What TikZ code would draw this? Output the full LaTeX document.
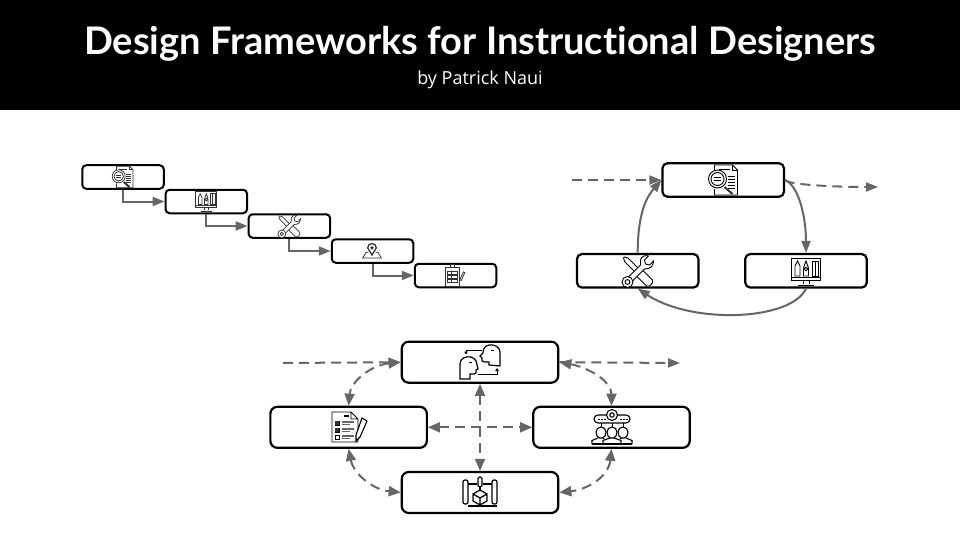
\documentclass[tikz,border=0pt]{standalone}
\usepackage{fontspec}
\setmainfont[Ligatures=NoCommon]{Lato}
\newfontfamily\subfont{Open Sans}
\usetikzlibrary{arrows.meta}
\definecolor{linegray}{HTML}{666666}
\tikzset{
  stepbox/.style={draw,line width=2pt,rounded corners=4pt,fill=white,inner sep=0pt,minimum width=81.5pt,minimum height=23.5pt},
  loopbox/.style={stepbox,line width=2.2pt,rounded corners=5pt,minimum width=121.5pt,minimum height=33.5pt},
  wideitem/.style={stepbox,line width=2.2pt,rounded corners=7pt,minimum width=156.5pt,minimum height=41pt},
  flow/.style={draw=linegray,line width=2pt,-{Triangle[length=12pt,width=9pt]}},
  flowdash/.style={flow,dash pattern=on 10pt off 6pt},
  bothdash/.style={flowdash,{Triangle[length=12pt,width=10pt]}-{Triangle[length=12pt,width=10pt]}},
  iconline/.style={draw=black,line width=.9pt},
  smallicon/.style={scale=.72,iconline/.style={draw=black!80,line width=.75pt}},
  iconsearch/.pic={
    \draw[iconline] (-9,-9) -- (-9,-15) -- (9,-15) -- (14,-10) -- (14,15) -- (-9,15) -- (-9,9);
    \draw[iconline] (9,-15) -- (9,-10) -- (14,-10);
    \foreach \y in {-4,-1,2,5,8} {\draw[iconline] (4,\y) -- (11,\y);}
    \draw[iconline] (-5,-11) -- (6,-11);
    \draw[iconline,fill=white] (-6,-1) circle (9);
    \draw[iconline] (-6,-1) circle (6.5);
    \draw[iconline] (-9.5,-2.5) -- (-2.5,-2.5) (-9.5,.5) -- (-2.5,.5);
    \draw[line width=2pt,black!80] (1,7) -- (9,14);
  },
  iconscreen/.pic={
    \draw[iconline] (-14.5,-13) rectangle (14.5,9) (-14.5,6) -- (14.5,6);
    \draw[iconline] (-3,9) -- (-3,13) (3,9) -- (3,13) (-8,14) -- (8,14);
    \draw[iconline] (-11,5) -- (-11,-5) -- (-8.5,-10) -- (-6,-5) -- (-6,5) -- cycle;
    \draw[iconline] (-2.5,5) -- (-2.5,-3) -- (0,-10) -- (2.5,-3) -- (2.5,5) -- cycle (0,-2) circle (1.8);
    \draw[iconline] (6,-10) rectangle (12,5) (9,-10) -- (9,5);
  },
  icontools/.pic={
    \draw[iconline,fill=white] (4,-2) -- (15,9) -- (15,12) -- (12,15) -- (9,15) -- (-2,4) -- cycle;
    \draw[iconline,fill=white] (-9.2,-12.8) -- (2.8,-.8) -- (-.8,2.8) -- (-12.8,-9.2) -- (-14,-13) -- (-13,-14) -- cycle;
    \draw[iconline,fill=white] (-11,8) -- (3,-6) -- (3,-11) .. controls (4,-15) and (8,-16) .. (11,-15) -- (7,-11) -- (8,-7) -- (12,-6) -- (16,-10) .. controls (16,-5) and (13,-2) .. (7,-2) -- (-7,12) -- cycle;
    \draw[iconline,fill=white] (-10,11) circle (5.5);
    \draw[iconline,fill=white] (-10,11) circle (2.4);
  },
  iconpin/.pic={
    \draw[iconline] (-5,3) -- (-8,3) -- (-13,11) -- (13,11) -- (8,3) -- (5,3);
    \draw[iconline,line width=1.3pt] (0,7) -- (-6,-3) arc (180:360:6) -- cycle;
    \draw[iconline,fill=black] (0,-3) circle (1.8);
  },
  iconclip/.pic={
    \draw[iconline] (-12,-11) rectangle (7,15);
    \draw[iconline] (-5,-15) rectangle (0,-11);
    \foreach \y in {-6,0,6} {\draw[iconline] (-9,\y) rectangle (4,\y+4) (-3,\y) -- (-3,\y+4);}
    \draw[iconline] (8,6) -- (13,-5) -- (15,-4) -- (10,7) -- cycle;
  },
  iconheads/.pic={
    \draw[iconline,line width=1.2pt] (-20,17) -- (-20,2) .. controls (-20,-4) and (-14,-6) .. (-9,-5) .. controls (-5,-4) and (-3,0) .. (-3,3) -- (-2,7) -- (-4,8) -- (-4,11) -- (-6,12) -- (-10,12) -- (-10,17) -- cycle;
    \draw[iconline,line width=1.2pt] (20,4) -- (20,-10) .. controls (20,-15) and (14,-18) .. (9,-17) .. controls (4,-16) and (3,-12) .. (3,-9) -- (0,-6) -- (2,-4) -- (2,-1) -- (5,0) -- (9,0) -- (9,3) -- (20,4);
    \draw[iconline] (-11,0) -- (-8,0) (11,-12) -- (14,-12);
    \draw[iconline,-{Triangle[length=3pt,width=3.5pt]}] (2,-12) -- (-14,-12) -- (-14,-7.5);
    \draw[iconline,-{Triangle[length=3pt,width=3.5pt]}] (-2,12) -- (17,12) -- (17,6);
  },
  iconteam/.pic={
    \draw[iconline,line width=1.1pt,rounded corners=4pt,fill=white] (-18,-13) rectangle (18,-5);
    \draw[iconline,line width=1.1pt,fill=white] (0,-13) circle (5.5);
    \draw[iconline,line width=1.1pt] (0,-13) circle (2.2);
    \foreach \x in {-14,-11,-8,8,11,14} {\draw[iconline] (\x,-9) -- (\x+1.5,-9);}
    \draw[iconline] (-11,-5) -- (-11,-1) (0,-5) -- (0,-1) (11,-5) -- (11,-1);
    \foreach \x in {-11,11} {
      \draw[iconline,line width=1.1pt] (\x-5,4) arc (180:360:5) -- (\x+4,8) -- (\x+1.5,10) -- (\x-1.5,10) -- (\x-4,8) -- cycle;
    }
    \draw[iconline,line width=1.1pt] (-20,16) -- (-20,12.5) -- (-14,10) (-8,10) -- (-9,11) (20,16) -- (20,12.5) -- (14,10) (8,10) -- (9,11);
    \draw[iconline,line width=1.1pt,fill=white] (-5,4) arc (180:360:5) -- (4,8) -- (1.5,10) -- (-1.5,10) -- (-4,8) -- cycle;
    \draw[iconline,line width=1.1pt] (-9,16) -- (-9,12.5) -- (-2,10) (2,10) -- (9,12.5) -- (9,16);
    \draw[iconline,line width=1.3pt] (-20,16) -- (20,16);
  },
  iconcube/.pic={
    \draw[iconline,line width=1.2pt] (-12,-9) -- (-3,-9) (3,-9) -- (12,-9) (-12,13) -- (17,13);
    \draw[iconline,line width=1.2pt,rounded corners=2pt] (-17,-13) rectangle (-12,11) (12,-13) rectangle (17,11);
    \draw[iconline,line width=1.2pt,rounded corners=1.5pt] (-2,-16) rectangle (2,-6);
    \draw[iconline,line width=1.2pt] (0,-6) -- (0,-3);
    \draw[iconline,line width=1.2pt] (0,-3) -- (7,1) -- (7,8) -- (0,12) -- (-7,8) -- (-7,1) -- cycle (-7,1) -- (0,5) -- (7,1) (0,5) -- (0,12);
  },
  iconlist/.pic={
    \draw[iconline] (-16,-15) -- (3,-15) -- (10,-8) -- (10,15) -- (-16,15) -- cycle (3,-15) -- (3,-8) -- (10,-8);
    \draw[iconline,line width=1.2pt] (-4,-11) -- (1,-11);
    \foreach \y in {-4,3,10} {
      \draw[iconline] (-13,\y-2) rectangle (-9,\y+2);
      \draw[iconline,line width=1.2pt,black!60] (-6,\y-1) -- (6,\y-1);
      \draw[iconline,black!60] (-6,\y+1.5) -- (2,\y+1.5);
    }
    \fill[black!80] (-13,-6) rectangle (-9,-2) (-13,1) rectangle (-9,5);
    \draw[iconline,fill=white,line width=1.1pt] (14,-9) -- (19,-6) -- (12,10) -- (8,14) -- (8,8) -- cycle;
  }
}
\begin{document}
\begin{tikzpicture}[x=1pt,y=-1pt]
\useasboundingbox (0,0) rectangle (960,540);
\fill [white] (0,0) rectangle (960,540);
\fill [black] (0,0) rectangle (960,110);
\node [white,font=\fontsize{38}{42}\selectfont\bfseries] (title) at (480,43.5) {Design Frameworks for Instructional Designers};
\node [white,font=\subfont\fontsize{18}{22}\selectfont] (byline) at (480,79.5) {by Patrick Naui};

\node [stepbox] (analyse) at (123,177) {};
\node [stepbox] (design) at (206.3,201.5) {};
\node [stepbox] (develop) at (289.4,226) {};
\node [stepbox] (implement) at (372.5,251) {};
\node [stepbox] (evaluate) at (455.5,275.5) {};
\pic [smallicon] at (123,177) {iconsearch};
\pic [smallicon] at (206.3,201) {iconscreen};
\pic [smallicon] at (289,226) {icontools};
\pic [smallicon] at (372,250) {iconpin};
\pic [smallicon] at (454,275.5) {iconclip};
\draw [flow] (analyse.south) |- (design.west);
\draw [flow] (design.south) |- (develop.west);
\draw [flow] (develop.south) |- (implement.west);
\draw [flow] (implement.south) |- (evaluate.west);

\node [loopbox] (review) at (723.2,180) {};
\node [loopbox] (fix) at (637.7,270.8) {};
\node [loopbox] (build) at (806,270.8) {};
\pic at (723.5,180) {iconsearch};
\pic at (637.5,271) {icontools};
\pic at (806,271) {iconscreen};
\coordinate (loopin) at (572,180);
\coordinate (loopout) at (878,187);
\draw [flowdash] (loopin) -- (review.west);
\draw [flowdash] (review.east) .. controls +(3,5) and +(-40,0) .. (loopout);
\draw [flow] (fix.north) .. controls +(0,-45) and +(-12,14) .. (review.west);
\draw [flow] (review.east) .. controls +(14,6) and +(0,-35) .. (build.north);
\draw [flow] (build.south) .. controls +(-15,32) and +(55,36) .. (fix.south);

\node [wideitem] (discuss) at (480,362.2) {};
\node [wideitem] (plan) at (348.6,427.3) {};
\node [wideitem] (teach) at (611.5,427.3) {};
\node [wideitem] (make) at (480,492.5) {};
\pic at (480,362) {iconheads};
\pic at (348,427) {iconlist};
\pic at (612,428) {iconteam};
\pic at (480,493) {iconcube};
\coordinate (cyclein) at (283,363);
\coordinate (cycleout) at (680,363);
\draw [flowdash] (cyclein) -- (discuss.west);
\draw [flowdash] (discuss.east) -- (cycleout);
\draw [bothdash] (discuss.west) .. controls +(-30,3) and +(2,-24) .. (plan.north);
\draw [bothdash] (plan.south) .. controls +(5,25) and +(-28,-3) .. (make.west);
\draw [bothdash] (discuss.east) .. controls +(28,5) and +(0,-25) .. (teach.north);
\draw [bothdash] (teach.south) .. controls +(-3,28) and +(28,-3) .. (make.east);
\draw [bothdash] (plan.east) -- (teach.west);
\draw [bothdash] (discuss.south) -- (make.north);
\end{tikzpicture}
\end{document}
